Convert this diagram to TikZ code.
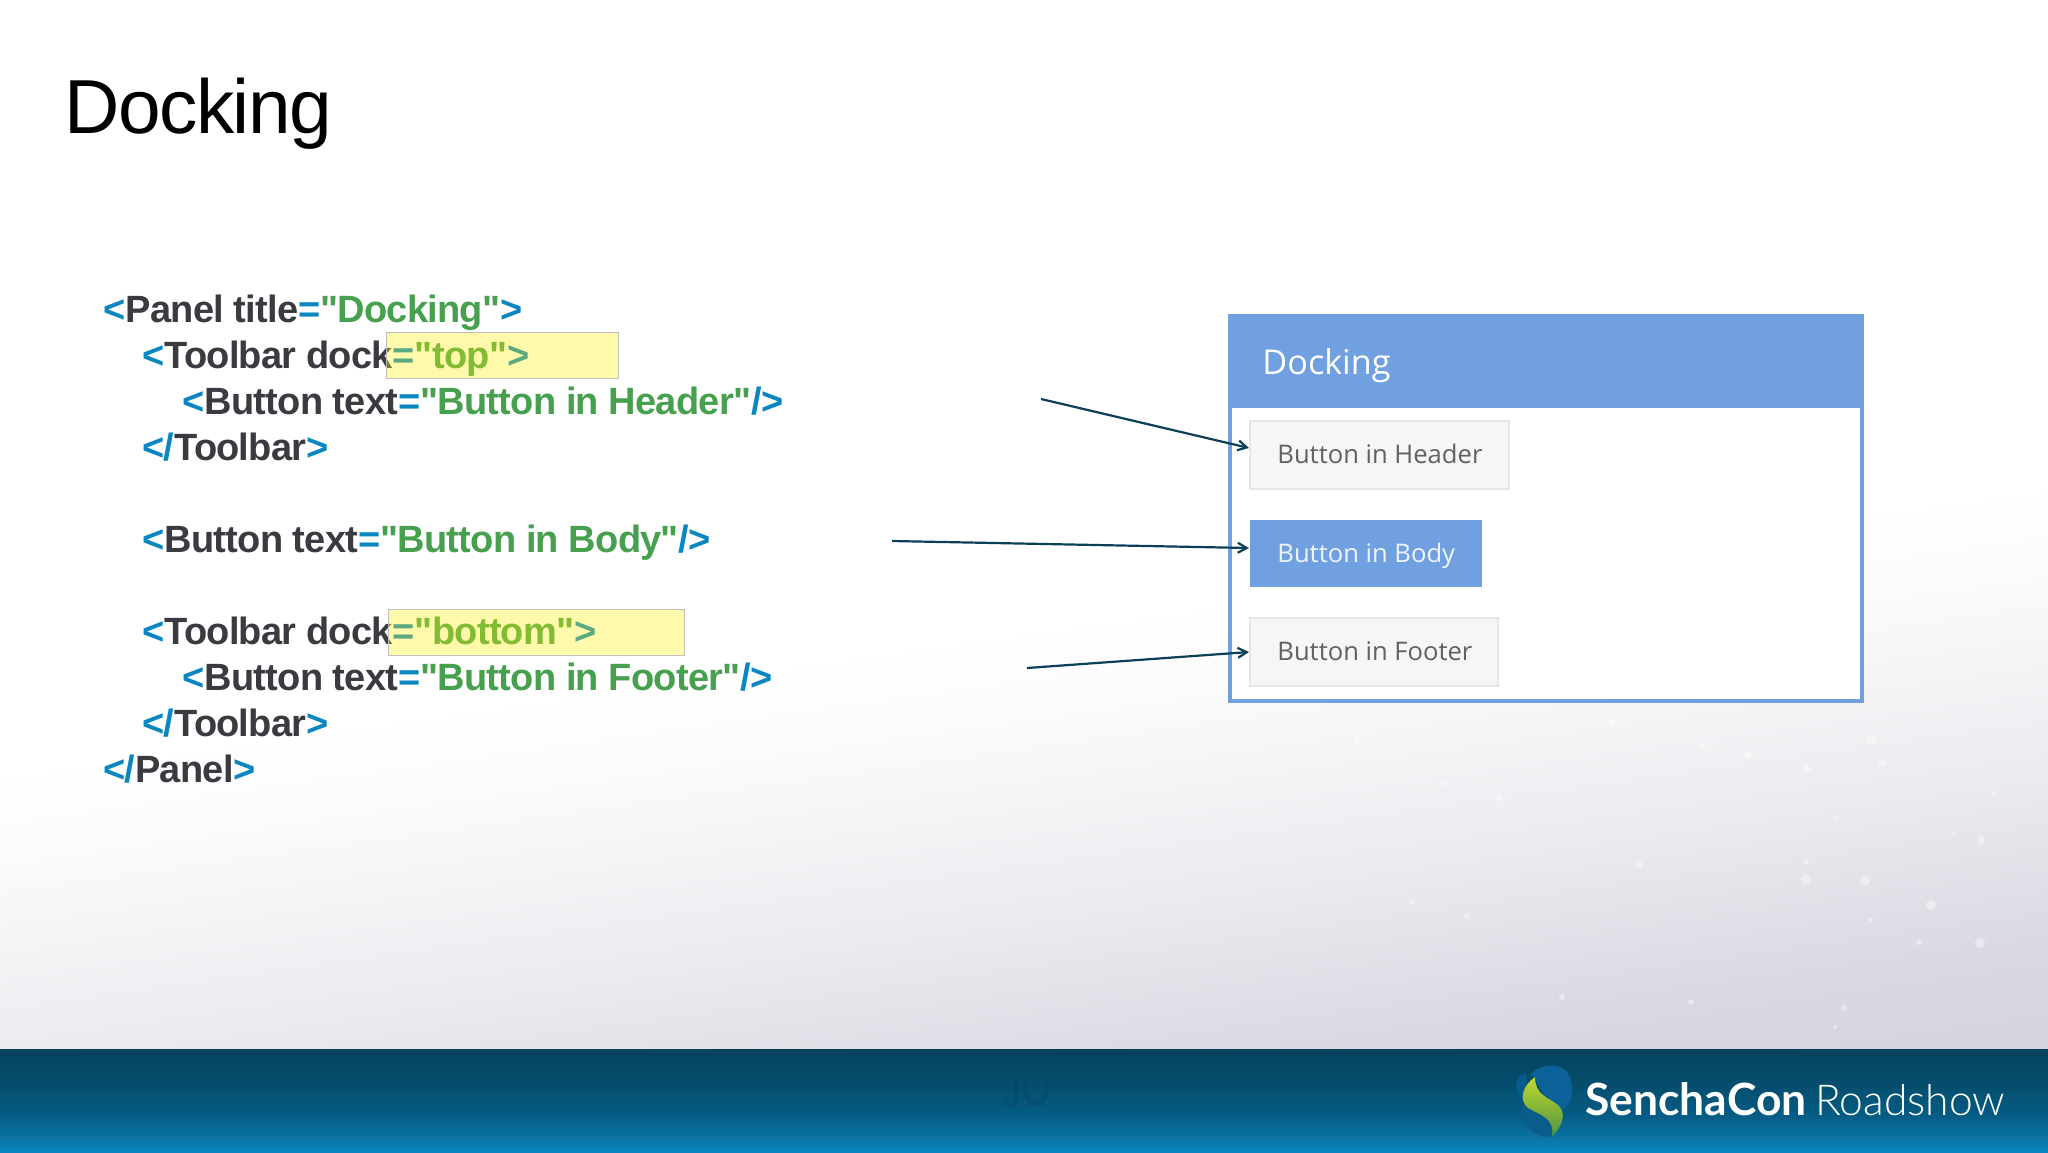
\documentclass[tikz,border=0pt]{standalone}
\usepackage{fontspec}
\usetikzlibrary{calc,arrows.meta}
\setmainfont{Liberation Sans}
\newfontfamily\codefont{Liberation Sans}[LetterSpace=-2]
\newfontfamily\osans{Open Sans}
\newfontfamily\lato{Lato}
\newfontfamily\latol{Lato Light}
\definecolor{tagblue}{HTML}{0A86C0}
\definecolor{ink}{HTML}{3A3B40}
\definecolor{strgreen}{HTML}{46A04E}
\definecolor{panelblue}{HTML}{70A0E0}
\definecolor{btnfill}{HTML}{F6F6F7}
\definecolor{btnline}{HTML}{E6E6E8}
\definecolor{arrowc}{HTML}{0B3F58}
\definecolor{bandbot}{HTML}{0A86C2}
\definecolor{bandb}{HTML}{0A70A0}
\definecolor{bandc}{HTML}{055C84}
\definecolor{bandd}{HTML}{054E6E}
\definecolor{bandtop}{HTML}{04425E}
\definecolor{bga}{HTML}{CBCAD8}
\definecolor{bgb}{HTML}{D9D8E2}
\definecolor{bgc}{HTML}{EEEEF2}
\definecolor{bgd}{HTML}{FBFBFC}
\definecolor{logoup}{HTML}{0A6298}
\definecolor{logolow}{HTML}{0B5C8A}
\definecolor{leafa}{HTML}{C0D830}
\definecolor{leafb}{HTML}{4F9440}
\newcommand{\tg}[1]{\textcolor{tagblue}{#1}}
\newcommand{\st}[1]{\textcolor{strgreen}{#1}}
\pgfdeclareverticalshading{slidebg}{100bp}{color(0bp)=(bga);color(20bp)=(bga);color(29.5bp)=(bgb);color(38bp)=(bgc);color(44.6bp)=(bgd);color(48bp)=(white);color(100bp)=(white)}
\pgfdeclareverticalshading{bandbg}{100bp}{color(0bp)=(bandbot);color(25bp)=(bandbot);color(33bp)=(bandb);color(43bp)=(bandc);color(57.5bp)=(bandd);color(75bp)=(bandtop);color(100bp)=(bandtop)}
\tikzset{
  x=0.5pt,y=-0.5pt,
  code/.style={anchor=base west,inner sep=0pt,font=\codefont\bfseries\fontsize{19}{23}\selectfont,text=ink},
  hl/.style={fill=yellow,fill opacity=0.33},
  hledge/.style={draw=black!25,line width=0.5pt},
  btn/.style={draw=btnline,line width=1pt,fill=btnfill},
  btnlabel/.style={anchor=base west,inner sep=0pt,font=\osans\fontsize{12.8}{16}\selectfont},
  conn/.style={draw=arrowc,line width=1.1pt,-{Straight Barb[length=4.5pt,width=5pt]}},
  spark/.style={fill=white,opacity=0.4},
}
\begin{document}
\begin{tikzpicture}
\useasboundingbox (0,0) rectangle (2048,1152);
% background
\shade[shading=slidebg,shading angle=8] (0,0) rectangle (2048,1152);
\foreach \px/\py/\r in {1612/723/4,1871/739/5,1703/746/3,1748/755/4,1807/769/4,1882/763/4,1994/794/3,1837/818/2,1953/833/2,1981/840/4,1639/865/4,1806/862/3,1806/879/5,1865/881/5,1931/905/5,1871/920/2,1919/942/3,1980/943/5,1562/997/3,1691/1002/3,1844/1008/3,1835/1027/2,1443/783/3,1499/798/3,1357/740/4,1412/902/3,1467/916/3}
  \fill[spark] (\px,\py) circle (\r);
% band
\shade[shading=bandbg] (0,1049) rectangle (2048,1152);
% faint mark in the band
\draw[logolow!70!black,opacity=0.3,line width=2pt] (1016,1080) -- (1016,1098) .. controls (1016,1108) and (1006,1108) .. (1005,1098);
\draw[logolow!70!black,opacity=0.3,line width=2pt] (1026,1082) .. controls (1022,1108) and (1045,1112) .. (1046,1090) -- (1046,1080);
% logo
\fill[logoup!70!bandd] (1520,1075) .. controls (1513,1085) and (1516,1095) .. (1523,1099) .. controls (1526,1090) and (1528,1080) .. (1526,1074) -- cycle;
\fill[logoup] (1530,1075) .. controls (1542,1061) and (1572,1060) .. (1572,1088) .. controls (1573,1100) and (1568,1106) .. (1563,1110) .. controls (1550,1098) and (1540,1095) .. (1535,1077) -- cycle;
\fill[logolow] (1522,1105) .. controls (1520,1128) and (1540,1140) .. (1552,1136) .. controls (1555,1120) and (1540,1112) .. (1522,1105) -- cycle;
\shade[top color=leafa,bottom color=leafb] (1535,1077) .. controls (1523,1085) and (1518,1100) .. (1528,1108) .. controls (1540,1115) and (1555,1118) .. (1552,1136) .. controls (1564,1125) and (1566,1112) .. (1558,1105) .. controls (1548,1097) and (1535,1095) .. (1535,1077) -- cycle;
\node[anchor=base west,inner sep=0pt,text=white,font=\lato\bfseries\fontsize{22.2}{24}\selectfont] (brand) at (1585,1115) {SenchaCon};
\node[anchor=base west,inner sep=0pt,text=white,font=\latol\fontsize{21.3}{24}\selectfont] (show) at (1815,1115) {Roadshow};
% title
\node[anchor=base west,inner sep=0pt,font=\fontsize{38.3}{44}\selectfont\addfontfeature{LetterSpace=-2}] (title) at (64,133) {Docking};
% code
\node[code] (l1) at (103,322) {\tg{<}Panel title\tg{=}\st{"Docking"}\tg{>}};
\node[code] (l2) at (142,368) {\tg{<}Toolbar dock\tg{=}\st{"top"}\tg{>}};
\node[code] (l3) at (182,414) {\tg{<}Button text\tg{=}\st{"Button in Header"}\tg{/>}};
\node[code] (l4) at (142,460) {\tg{</}Toolbar\tg{>}};
\node[code] (l5) at (142,552) {\tg{<}Button text\tg{=}\st{"Button in Body"}\tg{/>}};
\node[code] (l6) at (142,644) {\tg{<}Toolbar dock\tg{=}\st{"bottom"}\tg{>}};
\node[code] (l7) at (182,690) {\tg{<}Button text\tg{=}\st{"Button in Footer"}\tg{/>}};
\node[code] (l8) at (142,736) {\tg{</}Toolbar\tg{>}};
\node[code] (l9) at (103,782) {\tg{</}Panel\tg{>}};
% highlights, laid over the code
\fill[hl] (386,332) rectangle (618,378);
\fill[hl] (388,609) rectangle (684,655);
\draw[hledge] (386,332) rectangle (618,378);
\draw[hledge] (388,609) rectangle (684,655);
% panel
\fill[white] (1228,314) rectangle (1864,703);
\draw[panelblue,line width=2pt] (1230,316) rectangle (1862,701);
\fill[panelblue] (1228,314) rectangle (1864,408);
\node[anchor=base west,inner sep=0pt,text=white,font=\osans\fontsize{17.1}{22}\selectfont] (ptitle) at (1262,374) {Docking};
\draw[btn] (1250,421) rectangle (1509,489);
\fill[panelblue] (1250,520) rectangle (1482,587);
\draw[btn] (1250,618) rectangle (1498,686);
\coordinate (hdr) at (1249,448);
\coordinate (bdy) at (1249,548);
\coordinate (ftr) at (1249,652);
\node[btnlabel,text=black!62] (b1) at (1277,463) {Button in Header};
\node[btnlabel,text=white!88!panelblue] (b2) at (1277,562) {Button in Body};
\node[btnlabel,text=black!62] (b3) at (1277,660) {Button in Footer};
\coordinate (s1) at (1041,399);
\coordinate (s2) at (892,541);
\coordinate (s3) at (1027,668);
\draw[conn] (s1) -- (hdr);
\draw[conn] (s2) -- (bdy);
\draw[conn] (s3) -- (ftr);
\end{tikzpicture}
\end{document}
